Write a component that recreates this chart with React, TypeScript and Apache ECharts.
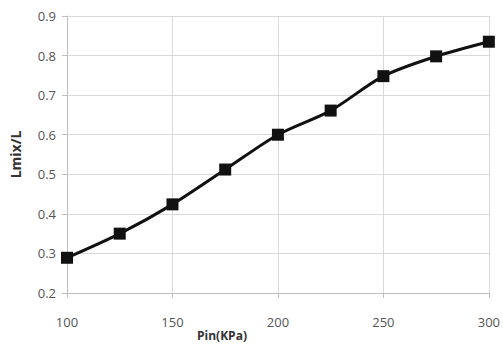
import React, { useEffect, useRef } from "react";
import * as echarts from "echarts";

const pinKPa = [100, 125, 150, 175, 200, 225, 250, 275, 300];
const lmixRatio = [0.289, 0.35, 0.424, 0.512, 0.6, 0.661, 0.748, 0.798, 0.835];
const xTicks = [100, 150, 200, 250, 300];
const yTicks = [0.2, 0.3, 0.4, 0.5, 0.6, 0.7, 0.8, 0.9];

export default function App() {
  const ref = useRef<HTMLDivElement>(null);
  useEffect(() => {
    if (!ref.current) return;
    const chart = echarts.init(ref.current, undefined, { renderer: "svg" });
    const font = "'Open Sans', 'Liberation Sans', sans-serif";
    chart.setOption({
      animation: false,
      backgroundColor: "#ffffff",
      grid: { left: 63, right: 11, top: 16, bottom: 54, containLabel: false },
      xAxis: {
        type: "value",
        min: xTicks[0],
        max: xTicks[xTicks.length - 1],
        interval: 50,
        axisLine: { show: true, lineStyle: { color: "#bdbdbd", width: 1 } },
        axisTick: { show: true, length: 5, lineStyle: { color: "#bdbdbd" } },
        splitLine: { show: true, lineStyle: { color: "#d9d9d9", width: 1 } },
        axisLabel: { color: "#555555", fontSize: 13, fontFamily: font, margin: 22 },
      },
      yAxis: {
        type: "value",
        min: yTicks[0],
        max: yTicks[yTicks.length - 1],
        interval: 0.1,
        name: "Lmix/L",
        nameLocation: "middle",
        nameGap: 45,
        nameTextStyle: { color: "#333333", fontSize: 14, fontWeight: "bold", fontFamily: font },
        axisLine: { show: true, lineStyle: { color: "#bdbdbd", width: 1 } },
        axisTick: { show: true, length: 5, lineStyle: { color: "#bdbdbd" } },
        splitLine: { show: true, lineStyle: { color: "#d9d9d9", width: 1 } },
        axisLabel: {
          color: "#555555",
          fontSize: 13,
          fontFamily: font,
          margin: 11,
          formatter: (v: number) => v.toFixed(1),
        },
      },
      graphic: [
        {
          type: "text",
          left: 197,
          top: 329,
          style: {
            text: "Pin(KPa)",
            fill: "#333333",
            font: `bold 12px ${font}`,
          },
        },
      ],
      series: [
        {
          type: "line",
          data: pinKPa.map((x, i) => [x, lmixRatio[i]]),
          smooth: 0.3,
          symbol: "rect",
          symbolSize: 12,
          lineStyle: { color: "#111111", width: 3 },
          itemStyle: { color: "#111111" },
        },
      ],
    });
    return () => chart.dispose();
  }, []);
  return (
    <div
      ref={ref}
      style={{ position: "fixed", left: 0, top: 0, width: 503, height: 347 }}
    />
  );
}
